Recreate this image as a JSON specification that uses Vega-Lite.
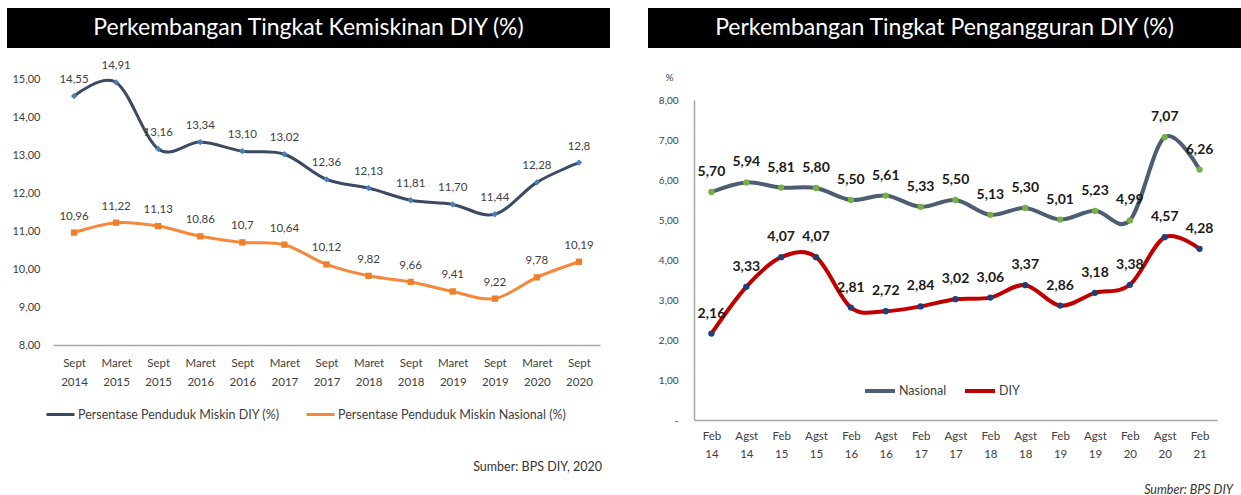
{
  "$schema": "https://vega.github.io/schema/vega-lite/v6.json",
  "padding": {"left": 7, "top": 8, "right": 0, "bottom": 0},
  "background": "white",
  "datasets": {
    "kemiskinan": [
      {"period": "Sept 2014", "series": "Persentase Penduduk Miskin  DIY (%)", "value": 14.55, "label": "14,55"},
      {"period": "Maret 2015", "series": "Persentase Penduduk Miskin  DIY (%)", "value": 14.91, "label": "14,91"},
      {"period": "Sept 2015", "series": "Persentase Penduduk Miskin  DIY (%)", "value": 13.16, "label": "13,16"},
      {"period": "Maret 2016", "series": "Persentase Penduduk Miskin  DIY (%)", "value": 13.34, "label": "13,34"},
      {"period": "Sept 2016", "series": "Persentase Penduduk Miskin  DIY (%)", "value": 13.10, "label": "13,10"},
      {"period": "Maret 2017", "series": "Persentase Penduduk Miskin  DIY (%)", "value": 13.02, "label": "13,02"},
      {"period": "Sept 2017", "series": "Persentase Penduduk Miskin  DIY (%)", "value": 12.36, "label": "12,36"},
      {"period": "Maret 2018", "series": "Persentase Penduduk Miskin  DIY (%)", "value": 12.13, "label": "12,13"},
      {"period": "Sept 2018", "series": "Persentase Penduduk Miskin  DIY (%)", "value": 11.81, "label": "11,81"},
      {"period": "Maret 2019", "series": "Persentase Penduduk Miskin  DIY (%)", "value": 11.70, "label": "11,70"},
      {"period": "Sept 2019", "series": "Persentase Penduduk Miskin  DIY (%)", "value": 11.44, "label": "11,44"},
      {"period": "Maret 2020", "series": "Persentase Penduduk Miskin  DIY (%)", "value": 12.28, "label": "12,28"},
      {"period": "Sept 2020", "series": "Persentase Penduduk Miskin  DIY (%)", "value": 12.8, "label": "12,8"},
      {"period": "Sept 2014", "series": "Persentase Penduduk Miskin Nasional (%)", "value": 10.96, "label": "10,96"},
      {"period": "Maret 2015", "series": "Persentase Penduduk Miskin Nasional (%)", "value": 11.22, "label": "11,22"},
      {"period": "Sept 2015", "series": "Persentase Penduduk Miskin Nasional (%)", "value": 11.13, "label": "11,13"},
      {"period": "Maret 2016", "series": "Persentase Penduduk Miskin Nasional (%)", "value": 10.86, "label": "10,86"},
      {"period": "Sept 2016", "series": "Persentase Penduduk Miskin Nasional (%)", "value": 10.7, "label": "10,7"},
      {"period": "Maret 2017", "series": "Persentase Penduduk Miskin Nasional (%)", "value": 10.64, "label": "10,64"},
      {"period": "Sept 2017", "series": "Persentase Penduduk Miskin Nasional (%)", "value": 10.12, "label": "10,12"},
      {"period": "Maret 2018", "series": "Persentase Penduduk Miskin Nasional (%)", "value": 9.82, "label": "9,82"},
      {"period": "Sept 2018", "series": "Persentase Penduduk Miskin Nasional (%)", "value": 9.66, "label": "9,66"},
      {"period": "Maret 2019", "series": "Persentase Penduduk Miskin Nasional (%)", "value": 9.41, "label": "9,41"},
      {"period": "Sept 2019", "series": "Persentase Penduduk Miskin Nasional (%)", "value": 9.22, "label": "9,22"},
      {"period": "Maret 2020", "series": "Persentase Penduduk Miskin Nasional (%)", "value": 9.78, "label": "9,78"},
      {"period": "Sept 2020", "series": "Persentase Penduduk Miskin Nasional (%)", "value": 10.19, "label": "10,19"}
    ],
    "pengangguran": [
      {"period": "Feb 14", "series": "Nasional", "value": 5.70, "label": "5,70"},
      {"period": "Agst 14", "series": "Nasional", "value": 5.94, "label": "5,94"},
      {"period": "Feb 15", "series": "Nasional", "value": 5.81, "label": "5,81"},
      {"period": "Agst 15", "series": "Nasional", "value": 5.80, "label": "5,80"},
      {"period": "Feb 16", "series": "Nasional", "value": 5.50, "label": "5,50"},
      {"period": "Agst 16", "series": "Nasional", "value": 5.61, "label": "5,61"},
      {"period": "Feb 17", "series": "Nasional", "value": 5.33, "label": "5,33"},
      {"period": "Agst 17", "series": "Nasional", "value": 5.50, "label": "5,50"},
      {"period": "Feb 18", "series": "Nasional", "value": 5.13, "label": "5,13"},
      {"period": "Agst 18", "series": "Nasional", "value": 5.30, "label": "5,30"},
      {"period": "Feb 19", "series": "Nasional", "value": 5.01, "label": "5,01"},
      {"period": "Agst 19", "series": "Nasional", "value": 5.23, "label": "5,23"},
      {"period": "Feb 20", "series": "Nasional", "value": 4.99, "label": "4,99"},
      {"period": "Agst 20", "series": "Nasional", "value": 7.07, "label": "7,07"},
      {"period": "Feb 21", "series": "Nasional", "value": 6.26, "label": "6,26"},
      {"period": "Feb 14", "series": "DIY", "value": 2.16, "label": "2,16"},
      {"period": "Agst 14", "series": "DIY", "value": 3.33, "label": "3,33"},
      {"period": "Feb 15", "series": "DIY", "value": 4.07, "label": "4,07"},
      {"period": "Agst 15", "series": "DIY", "value": 4.07, "label": "4,07"},
      {"period": "Feb 16", "series": "DIY", "value": 2.81, "label": "2,81"},
      {"period": "Agst 16", "series": "DIY", "value": 2.72, "label": "2,72"},
      {"period": "Feb 17", "series": "DIY", "value": 2.84, "label": "2,84"},
      {"period": "Agst 17", "series": "DIY", "value": 3.02, "label": "3,02"},
      {"period": "Feb 18", "series": "DIY", "value": 3.06, "label": "3,06"},
      {"period": "Agst 18", "series": "DIY", "value": 3.37, "label": "3,37"},
      {"period": "Feb 19", "series": "DIY", "value": 2.86, "label": "2,86"},
      {"period": "Agst 19", "series": "DIY", "value": 3.18, "label": "3,18"},
      {"period": "Feb 20", "series": "DIY", "value": 3.38, "label": "3,38"},
      {"period": "Agst 20", "series": "DIY", "value": 4.57, "label": "4,57"},
      {"period": "Feb 21", "series": "DIY", "value": 4.28, "label": "4,28"}
    ]
  },
  "hconcat": [
    {
      "vconcat": [
        {
          "width": 603,
          "height": 40,
          "view": {"fill": "black", "stroke": null},
          "data": {"values": [{"t": "Perkembangan Tingkat Kemiskinan DIY (%)"}]},
          "mark": {"type": "text", "color": "white", "fontSize": 23, "font": "Lato", "baseline": "middle", "align": "center"},
          "encoding": {"text": {"field": "t"}}
        },
        {
          "width": 603,
          "height": 266,
          "data": {"name": "kemiskinan"},
          "title": {"text": "Sumber: BPS DIY, 2020", "orient": "bottom", "anchor": "end", "fontSize": 12.5, "fontWeight": "normal", "color": "#333333", "font": "Lato", "offset": 73, "dx": -8},
          "encoding": {
            "x": {"field": "period", "type": "ordinal", "sort": null,
                  "scale": {"type": "point", "range": [46, 593], "padding": 0.5},
                  "axis": {"title": null, "labelAngle": 0, "ticks": false, "domainColor": "#a6a6a6", "domainWidth": 1.5,
                           "labelExpr": "split(datum.label, ' ')", "labelFontSize": 11.5, "labelColor": "#404040", "labelFont": "Lato",
                           "labelPadding": 12, "labelLineHeight": 19}},
            "y": {"field": "value", "type": "quantitative",
                  "scale": {"domain": [8, 15], "nice": false, "zero": false},
                  "axis": {"title": null, "offset": -46, "domain": false, "ticks": false, "grid": false,
                           "values": [8, 9, 10, 11, 12, 13, 14, 15],
                           "labelExpr": "replace(format(datum.value, '.2f'), '.', ',')",
                           "labelFontSize": 11, "labelColor": "#404040", "labelFont": "Lato", "labelPadding": 13}}
          },
          "layer": [
            {
              "mark": {"type": "line", "interpolate": "cardinal", "strokeWidth": 3},
              "encoding": {
                "color": {"field": "series", "type": "nominal",
                          "scale": {"domain": ["Persentase Penduduk Miskin  DIY (%)", "Persentase Penduduk Miskin Nasional (%)"], "range": ["#3b4a62", "#f5883a"]},
                          "legend": {"title": null, "orient": "none", "legendX": 38, "legendY": 391, "direction": "horizontal",
                                     "symbolType": "stroke", "symbolStrokeWidth": 3, "symbolSize": 784, "labelLimit": 400, "labelOffset": 2,
                                     "labelFontSize": 12.5, "labelColor": "#404040", "labelFont": "Lato", "columnPadding": 17}}
              }
            },
            {
              "transform": [{"filter": "datum.series == 'Persentase Penduduk Miskin  DIY (%)'"}],
              "mark": {"type": "point", "filled": true, "opacity": 1, "shape": "diamond", "color": "#4a7ebb", "size": 40}
            },
            {
              "transform": [{"filter": "datum.series == 'Persentase Penduduk Miskin Nasional (%)'"}],
              "mark": {"type": "point", "filled": true, "opacity": 1, "shape": "square", "color": "#f07f2a", "size": 40}
            },
            {
              "mark": {"type": "text", "dy": -16, "fontSize": 11.5, "color": "#404040", "font": "Lato"},
              "encoding": {"text": {"field": "label"}}
            }
          ]
        }
      ],
      "spacing": 31,
      "bounds": "flush"
    },
    {
      "vconcat": [
        {
          "width": 593,
          "height": 40,
          "view": {"fill": "black", "stroke": null},
          "data": {"values": [{"t": "Perkembangan Tingkat Pengangguran DIY (%)"}]},
          "mark": {"type": "text", "color": "white", "fontSize": 23, "font": "Lato", "baseline": "middle", "align": "center"},
          "encoding": {"text": {"field": "t"}}
        },
        {
          "width": 593,
          "height": 320,
          "data": {"name": "pengangguran"},
          "title": {"text": "Sumber: BPS DIY", "orient": "bottom", "anchor": "end", "fontSize": 12.5, "fontWeight": "normal", "fontStyle": "italic", "color": "#333333", "font": "Lato", "offset": 24, "dx": -8},
          "encoding": {
            "x": {"field": "period", "type": "ordinal", "sort": null,
                  "scale": {"type": "point", "range": [46, 569], "padding": 0.5},
                  "axis": {"title": null, "labelAngle": 0, "ticks": false, "domainColor": "#a6a6a6", "domainWidth": 1.5,
                           "labelExpr": "split(datum.label, ' ')", "labelFontSize": 11.5, "labelColor": "#404040", "labelFont": "Lato",
                           "labelPadding": 10, "labelLineHeight": 18}},
            "y": {"field": "value", "type": "quantitative",
                  "scale": {"domain": [0, 8], "nice": false},
                  "axis": {"title": "%", "titleAngle": 0, "titleX": -25, "titleY": -23, "titleAlign": "center", "titleBaseline": "middle",
                           "titleFontSize": 10, "titleFontWeight": "normal", "titleColor": "#404040", "titleFont": "Lato",
                           "offset": -46, "domain": true, "domainColor": "#a6a6a6", "domainWidth": 1.5, "ticks": false, "grid": false,
                           "values": [0, 1, 2, 3, 4, 5, 6, 7, 8],
                           "labelExpr": "datum.value == 0 ? '-' : replace(format(datum.value, '.2f'), '.', ',')",
                           "labelFontSize": 10, "labelColor": "#404040", "labelFont": "Lato", "labelPadding": 16}}
          },
          "layer": [
            {
              "mark": {"type": "line", "interpolate": "cardinal", "strokeWidth": 4},
              "encoding": {
                "color": {"field": "series", "type": "nominal",
                          "scale": {"domain": ["Nasional", "DIY"], "range": ["#4d5d72", "#c00000"]},
                          "legend": {"title": null, "orient": "none", "legendX": 215, "legendY": 366, "direction": "horizontal",
                                     "symbolType": "stroke", "symbolStrokeWidth": 4, "symbolSize": 900, "labelOffset": 2,
                                     "labelFontSize": 12.5, "labelColor": "#404040", "labelFont": "Lato", "columnPadding": 10}}
              }
            },
            {
              "transform": [{"filter": "datum.series == 'Nasional'"}],
              "mark": {"type": "point", "filled": true, "opacity": 1, "shape": "circle", "color": "#77b043", "size": 40}
            },
            {
              "transform": [{"filter": "datum.series == 'DIY'"}],
              "mark": {"type": "point", "filled": true, "opacity": 1, "shape": "circle", "color": "#1f3f77", "size": 40}
            },
            {
              "mark": {"type": "text", "dy": -20, "fontSize": 14, "fontWeight": "bold", "color": "#1a1a1a", "font": "Lato"},
              "encoding": {"text": {"field": "label"}}
            }
          ]
        }
      ],
      "spacing": 52,
      "bounds": "flush"
    }
  ],
  "spacing": 38,
  "resolve": {"scale": {"color": "independent"}},
  "config": {"view": {"stroke": null}, "font": "Lato"}
}
